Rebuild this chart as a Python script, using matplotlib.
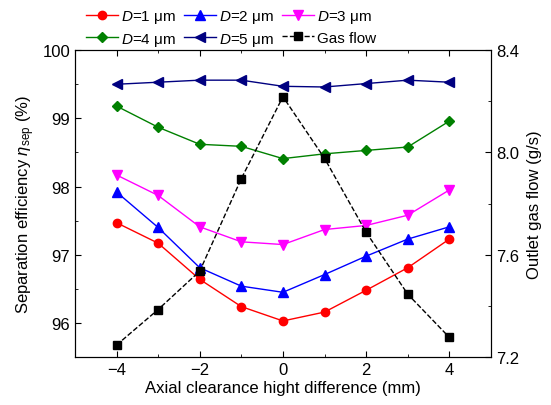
import matplotlib
matplotlib.use("Agg")
import matplotlib.pyplot as plt
from matplotlib.ticker import MultipleLocator

plt.rcParams['font.family'] = ['Liberation Sans', 'DejaVu Sans']
plt.rcParams['mathtext.fontset'] = 'custom'
plt.rcParams['mathtext.rm'] = 'Liberation Sans'
plt.rcParams['mathtext.it'] = 'Liberation Sans:italic'

# Axial clearance height difference (mm)
x = [-4, -3, -2, -1, 0, 1, 2, 3, 4]

# Separation efficiency (%) per particle diameter
eff_d1 = [97.47, 97.17, 96.64, 96.24, 96.03, 96.16, 96.48, 96.81, 97.23]
eff_d2 = [97.92, 97.40, 96.81, 96.54, 96.45, 96.71, 96.98, 97.23, 97.41]
eff_d3 = [98.17, 97.87, 97.41, 97.19, 97.15, 97.37, 97.43, 97.58, 97.95]
eff_d4 = [99.18, 98.87, 98.62, 98.59, 98.41, 98.48, 98.53, 98.58, 98.96]
eff_d5 = [99.50, 99.53, 99.56, 99.56, 99.47, 99.46, 99.51, 99.56, 99.53]

# Outlet gas flow (g/s)
gas_flow = [7.247, 7.386, 7.536, 7.898, 8.218, 7.977, 7.688, 7.446, 7.277]

fig = plt.figure(figsize=(5.51, 4.06), dpi=100)
ax = fig.add_axes([0.136, 0.118, 0.755, 0.756])
ax2 = ax.twinx()

ms = 6
l1, = ax.plot(x, eff_d1, '-o', color='red', ms=ms, lw=1, label=r'$D$=1 μm')
l2, = ax.plot(x, eff_d2, '-^', color='blue', ms=ms + 1, lw=1, label=r'$D$=2 μm')
l3, = ax.plot(x, eff_d3, '-v', color='magenta', ms=ms + 1, lw=1, label=r'$D$=3 μm')
l4, = ax.plot(x, eff_d4, '-D', color='green', ms=ms - 0.5, lw=1, label=r'$D$=4 μm')
l5, = ax.plot(x, eff_d5, '-<', color='navy', ms=ms + 1, lw=1, label=r'$D$=5 μm')
l6, = ax2.plot(x, gas_flow, '--s', color='black', ms=ms - 0.5, lw=1, label='Gas flow')

ax.set_xlim(-5, 5)
ax.set_ylim(95.5, 100)
ax2.set_ylim(7.2, 8.4)

ax.xaxis.set_major_locator(MultipleLocator(2))
ax.xaxis.set_minor_locator(MultipleLocator(1))
ax.yaxis.set_major_locator(MultipleLocator(1))
ax.yaxis.set_minor_locator(MultipleLocator(0.5))
ax2.yaxis.set_major_locator(MultipleLocator(0.4))
ax2.yaxis.set_minor_locator(MultipleLocator(0.2))
ax2.yaxis.set_major_formatter(matplotlib.ticker.FormatStrFormatter('%.1f'))

ax.tick_params(axis='both', which='both', direction='in', labelsize=12)
ax.tick_params(axis='x', which='both', top=True)
ax.tick_params(which='major', length=4)
ax.tick_params(which='minor', length=2.5)
ax2.tick_params(axis='y', which='both', direction='in', labelsize=12)
ax2.tick_params(which='major', length=4)
ax2.tick_params(which='minor', length=2.5)

ax.set_xlabel('Axial clearance hight difference (mm)', fontsize=12, labelpad=2)
ax.set_ylabel(r'Separation efficiency $\eta_{\rm sep}$ (%)', fontsize=12, labelpad=4)
ax2.set_ylabel('Outlet gas flow (g/s)', fontsize=12, labelpad=6)

# legend fills column-wise; order so rows read D1 D2 D3 / D4 D5 Gas flow
handles = [l1, l4, l2, l5, l3, l6]
fig.legend(handles=handles, loc='upper left', bbox_to_anchor=(0.14, 1.0), ncol=3,
           frameon=False, fontsize=11, handlelength=2.1, handletextpad=0.2,
           columnspacing=0.5, labelspacing=0.35, borderaxespad=0.2)

fig.savefig('out.png', dpi=100)
